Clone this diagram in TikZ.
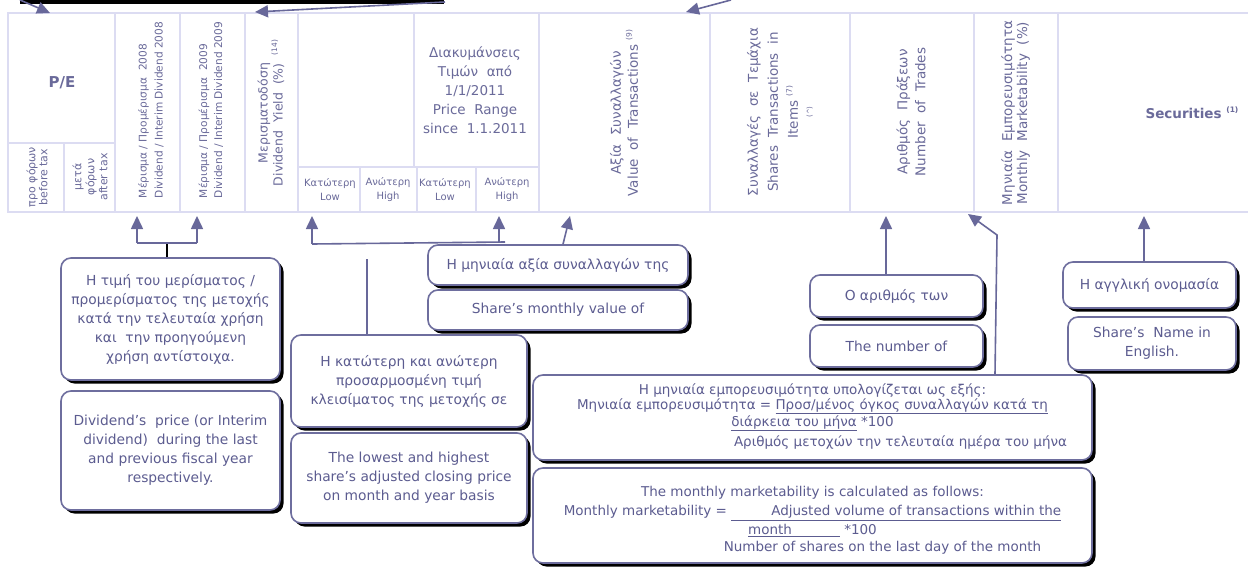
\documentclass[tikz,border=0pt]{standalone}
\usepackage{fontspec}
\setmainfont{DejaVu Sans}
\usetikzlibrary{arrows.meta,shadows,calc}
\definecolor{gridc}{HTML}{DCDCF2}
\definecolor{htext}{HTML}{6A6A9A}
\definecolor{ctext}{HTML}{5C5C90}
\definecolor{cbord}{HTML}{6E6E9E}
\definecolor{arrc}{HTML}{68689A}
\newcommand\mysup[1]{\raisebox{0.45em}{\fontsize{7.5}{8}\selectfont #1}}
\newcommand\dsp{\ \ }
\newcommand\cfont{\fontsize{13.8}{19}\selectfont}
\newcommand\gfont{\fontsize{13.5}{15}\selectfont}
\begin{document}
\begin{tikzpicture}[x=1pt,y=-1pt,
 cell/.style={draw=gridc,line width=1.5pt,rectangle,inner sep=0pt},
 htxt/.style={text=htext,align=center,inner sep=0pt},
 callout/.style={rectangle,rounded corners=10pt,draw=cbord,line width=1.6pt,fill=white,
   drop shadow={shadow xshift=3.5pt,shadow yshift=-3.5pt,fill=black,opacity=1},
   text=ctext,align=center,inner sep=0pt,font=\cfont},
 ctxt/.style={text=ctext,align=center,inner sep=0pt,font=\gfont},
 arr/.style={draw=arrc,line width=1.6pt,-{Triangle[width=12pt,length=13pt]}},
 link/.style={draw=arrc,line width=1.6pt}]

\useasboundingbox (0,0) rectangle (1248,568);
\fill[white] (0,0) rectangle (1248,568);
\clip (0,0) rectangle (1248,568);

% ---------- header cells ----------
\node[cell,minimum width=107pt,minimum height=130pt] (hpe)  at (61.5,78) {};
\node[cell,minimum width=56pt,minimum height=69pt]   (hpeb) at (36,177.5) {};
\node[cell,minimum width=51pt,minimum height=69pt]   (hpea) at (89.5,177.5) {};
\node[cell,minimum width=65pt,minimum height=199pt]  (hd08) at (147.5,112.5) {};
\node[cell,minimum width=65pt,minimum height=199pt]  (hd09) at (212.5,112.5) {};
\node[cell,minimum width=53pt,minimum height=199pt]  (hdy)  at (271.5,112.5) {};
\node[cell,minimum width=116pt,minimum height=154pt] (hpr0) at (356,90) {};
\node[cell,minimum width=125pt,minimum height=154pt] (hprr) at (476.5,90) {};
\node[cell,minimum width=62pt,minimum height=45pt]   (hlo1) at (329,189.5) {};
\node[cell,minimum width=57pt,minimum height=45pt]   (hhi1) at (388.5,189.5) {};
\node[cell,minimum width=59pt,minimum height=45pt]   (hlo2) at (446.5,189.5) {};
\node[cell,minimum width=63pt,minimum height=45pt]   (hhi2) at (507.5,189.5) {};
\node[cell,minimum width=171pt,minimum height=199pt] (hval) at (624.5,112.5) {};
\node[cell,minimum width=140pt,minimum height=199pt] (hsti) at (780,112.5) {};
\node[cell,minimum width=124pt,minimum height=199pt] (hntr) at (912,112.5) {};
\node[cell,minimum width=84pt,minimum height=199pt]  (hmm)  at (1016,112.5) {};
\node[cell,minimum width=202pt,minimum height=199pt] (hsec) at (1159,112.5) {};

% ---------- header texts ----------
\node[htxt,font=\fontsize{15}{17}\selectfont\bfseries] (tpe) at (62,83) {P/E};
\node[htxt,rotate=90,font=\fontsize{11}{12}\selectfont] (tpeb) at (37,177) {προ φόρων\\before tax};
\node[htxt,rotate=90,font=\fontsize{11}{13}\selectfont] (tpea) at (90,177) {μετά\\φόρων\\after tax};
\node[htxt,rotate=90,align=left,font=\fontsize{10.6}{16}\selectfont] (td08) at (151,110)
  {Μέρισμα / Προμέρισμα\dsp 2008\\Dividend / Interim Dividend 2008};
\node[htxt,rotate=90,align=left,font=\fontsize{10.6}{15}\selectfont] (td09) at (211,110)
  {Μέρισμα / Προμέρισμα\dsp 2009\\Dividend / Interim Dividend 2009};
\node[htxt,rotate=90,font=\fontsize{12.5}{15}\selectfont] (tdy) at (271,113)
  {Μερισματοδόση\\Dividend\dsp Yield\dsp (\%)\dsp\mysup{(14)}};
\node[htxt,font=\fontsize{13.5}{19}\selectfont] (tprr) at (475,90)
  {Διακυμάνσεις\\Τιμών\dsp από\\1/1/2011\\Price\dsp Range\\since\dsp 1.1.2011};
\node[htxt,font=\fontsize{10}{14}\selectfont] (tlo1) at (330,190) {Κατώτερη\\Low};
\node[htxt,font=\fontsize{10}{14}\selectfont] (thi1) at (388,190) {Ανώτερη\\High};
\node[htxt,font=\fontsize{10}{14}\selectfont] (tlo2) at (445,190) {Κατώτερη\\Low};
\node[htxt,font=\fontsize{10}{14}\selectfont] (thi2) at (507,190) {Ανώτερη\\High};
\node[htxt,rotate=90,font=\fontsize{13.5}{17}\selectfont] (tval) at (624,113)
  {Αξία\dsp Συναλλαγών\\Value\dsp of\dsp Transactions \mysup{(9)}};
\node[htxt,rotate=90,font=\fontsize{13.5}{20}\selectfont] (tsti) at (780,112)
  {Συναλλαγές\dsp σε\dsp Τεμάχια\\Shares\dsp Transactions\dsp in\\Items \mysup{(7)}\\[-6pt]{\fontsize{7}{8}\selectfont (\textasciicircum)}};
\node[htxt,rotate=90,font=\fontsize{13.5}{18}\selectfont] (tntr) at (911,112)
  {Αριθμός\dsp Πράξεων\\Number\dsp of\dsp Trades};
\node[htxt,rotate=90,font=\fontsize{13.5}{15}\selectfont] (tmm) at (1015.5,113)
  {Μηνιαία\dsp Εμπορευσιμότητα\\Monthly\dsp Marketability\dsp (\%)};
\node[htxt,font=\fontsize{13.5}{15}\selectfont\bfseries] (tsec) at (1192,113) {Securities \mysup{(1)}};

% ---------- top bar and top arrows ----------
\fill[black] (20,0) rectangle (444,3.5);
\coordinate (a1s) at (20,0);   \coordinate (a1t) at (50,13);
\coordinate (a2s) at (445,2);  \coordinate (a2t) at (255,12);
\coordinate (a3s) at (731,0);  \coordinate (a3t) at (686,12);
\draw[arr] (a1s) -- (a1t);
\draw[arr] (a2s) -- (a2t);
\draw[arr] (a3s) -- (a3t);

% ---------- callouts ----------
\node[callout,minimum width=219pt,minimum height=122pt] (cA) at (170.5,319)
  {Η τιμή του μερίσματος /\\προμερίσματος της μετοχής\\κατά την τελευταία χρήση\\και\dsp την προηγούμενη\\χρήση αντίστοιχα.};
\node[callout,minimum width=219pt,minimum height=119pt] (cB) at (170.5,450.5)
  {Dividend's\dsp price (or Interim\\dividend)\dsp during the last\\and previous fiscal year\\respectively.};
\node[callout,minimum width=260pt,minimum height=40pt] (cE) at (558,265) {Η μηνιαία αξία συναλλαγών της};
\node[callout,minimum width=260pt,minimum height=40pt] (cF) at (558,310) {Share's monthly value of};
\node[callout,minimum width=236pt,minimum height=92pt] (cC) at (409,381)
  {Η κατώτερη και ανώτερη\\προσαρμοσμένη τιμή\\κλεισίματος της μετοχής σε};
\node[callout,minimum width=236pt,minimum height=90pt] (cD) at (409,478)
  {The lowest and highest\\share's adjusted closing price\\on month and year basis};
\node[callout,minimum width=173pt,minimum height=42pt] (cI) at (896.5,296) {Ο αριθμός των};
\node[callout,minimum width=173pt,minimum height=42pt] (cJ) at (896.5,346) {The number of};
\node[callout,minimum width=173pt,minimum height=46pt] (cK) at (1149.5,285) {Η αγγλική ονομασία};
\node[callout,minimum width=168pt,minimum height=53pt] (cL) at (1152,343.5) {Share's\dsp Name in\\English.};
\node[callout,minimum width=559pt,minimum height=85pt] (cG) at (812.5,417.5) {};
\node[callout,minimum width=559pt,minimum height=95pt] (cH) at (812.5,515.5) {};
\node[ctxt] (tG) at ($(cG.center)+(0,-1)$)
  {Η μηνιαία εμπορευσιμότητα υπολογίζεται ως εξής:\\
   Μηνιαία εμπορευσιμότητα = \underline{Προσ/μένος όγκος συναλλαγών κατά τη}\\
   \underline{διάρκεια του μήνα} *100\\[4pt]
   \hspace*{176pt}Αριθμός μετοχών την τελευταία ημέρα του μήνα};
\node[ctxt,font=\fontsize{13.5}{19}\selectfont] (tH) at ($(cH.center)+(0,5)$)
  {The monthly marketability is calculated as follows:\\
   Monthly marketability = \underline{\hspace{40pt}Adjusted volume of transactions within the}\\
   \underline{month\hspace{48pt}} *100\\[-2pt]
   \hspace*{140pt}Number of shares on the last day of the month};

% ---------- connectors ----------
\coordinate (tiprow) at (0,216);
\coordinate (dj) at (167,243);
\coordinate (d1) at (137,243);
\coordinate (d2) at (197,243);
\draw[black,line width=1.6pt] (cA.north -| dj) -- (dj);
\draw[link] (d1) -- (d2);
\draw[arr] (d1) -- (d1 |- tiprow);
\draw[arr] (d2) -- (d2 |- tiprow);

\coordinate (p1) at (312,244);
\coordinate (p2) at (505,242);
\coordinate (p3) at (499,242);
\draw[link] (p1) -- (p2);
\draw[arr] (p1) -- (p1 |- tiprow);
\draw[arr] (p3) -- (p3 |- tiprow);
\coordinate (cv) at (367,259);
\draw[link] (cC.north -| cv) -- (cv);

\coordinate (vb) at (563,0);
\coordinate (vt) at (570,216);
\draw[arr] (cE.north -| vb) -- (vt);

\coordinate (nx) at (886,0);
\draw[arr] (cI.north -| nx) -- (nx |- tiprow);

\coordinate (mk0) at (995,0);
\coordinate (mk1) at (997,235);
\coordinate (mk2) at (968,214);
\draw[arr] (cG.north -| mk0) -- (mk1) -- (mk2);

\coordinate (sx) at (1144,0);
\draw[arr] (cK.north -| sx) -- (sx |- tiprow);
\end{tikzpicture}
\end{document}
